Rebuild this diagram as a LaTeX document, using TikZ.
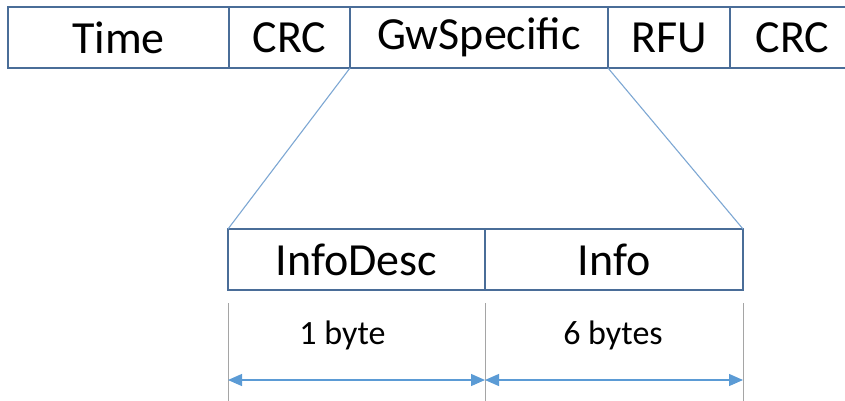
\documentclass[tikz,border=0pt]{standalone}
\usepackage{fontspec}
\setmainfont{Carlito}
\usetikzlibrary{positioning,calc,arrows.meta}
\definecolor{boxblue}{HTML}{4A6D98}
\definecolor{zoomblue}{HTML}{7DA7D3}
\definecolor{arrowblue}{HTML}{5B9BD5}
\definecolor{dimgray}{HTML}{A5A5A5}
\newcommand\fieldfont{\fontsize{46}{50}\selectfont}
\newcommand\sizefont{\fontsize{34}{38}\selectfont}
\tikzset{
  field/.style={draw=boxblue, line width=2.6pt, minimum height=61pt, inner sep=0pt, outer sep=0pt, font=\fieldfont},
  zoomline/.style={draw=zoomblue, line width=1.1pt},
  dimline/.style={draw=dimgray, line width=1pt},
  dimarrow/.style={draw=arrowblue, line width=1.3pt, {Triangle[length=14pt,width=12pt]}-{Triangle[length=14pt,width=12pt]}},
  sizelabel/.style={inner sep=0pt, font=\sizefont}
}

\begin{document}
\begin{tikzpicture}[x=1pt,y=-1pt]
				%%%%% START %%%%%
				\clip (0,0) rectangle (845,400);
				
				% top frame
				\node[field, minimum width=221pt, anchor=north west] (time) at (8,7) {Time};
				\node[field, minimum width=121pt, right=0pt of time] (crca) {CRC};
				\node[field, minimum width=258pt, right=0pt of crca] (gw) {GwSpecific};
				\node[field, minimum width=122pt, right=0pt of gw] (rfu) {RFU};
				\node[field, minimum width=125pt, right=0pt of rfu] (crcb) {CRC};
				
				% GwSpecific field
				\node[field, minimum width=257pt, anchor=north west] (infodesc) at (228,229) {InfoDesc};
				\node[field, minimum width=258pt, right=0pt of infodesc] (info) {Info};
				
				\draw[zoomline] (gw.south west) -- (infodesc.north west);
				\draw[zoomline] (gw.south east) -- (info.north east);
				
				% sizes
				\foreach \p in {infodesc.south west, infodesc.south east, info.south east}
					\draw[dimline] ($(\p)+(0,13)$) -- ($(\p)+(0,115)$);
				
				\coordinate (a0) at ($(infodesc.south west)+(0,90)$);
				\coordinate (a1) at ($(infodesc.south east)+(0,90)$);
				\coordinate (a2) at ($(info.south east)+(0,90)$);
				\draw[dimarrow] (a0) -- (a1);
				\draw[dimarrow] (a1) -- (a2);
				
				\node[sizelabel] (sz1) at ($(a0)!0.5!(a1)+(-14,-45)$) {1 byte};
				\node[sizelabel] (sz6) at ($(a1)!0.5!(a2)+(-1,-45)$) {6 bytes};
				%%%%% END %%%%%
\end{tikzpicture}
\end{document}
